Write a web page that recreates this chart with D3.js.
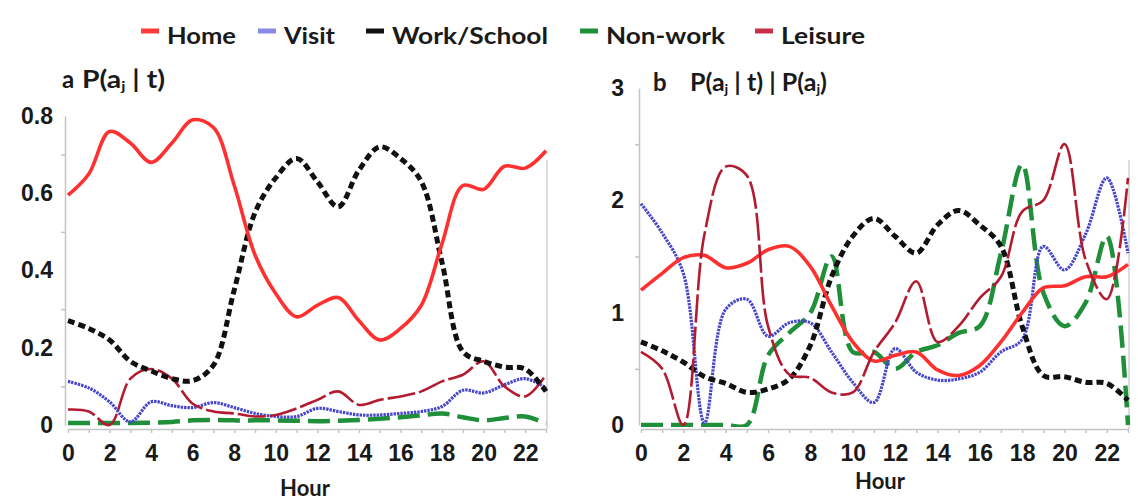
<!DOCTYPE html>
<html>
<head>
<meta charset="utf-8">
<script src="https://cdn.jsdelivr.net/npm/d3@7"></script>
<style>
  body { margin: 0; background: #fff; }
  svg { font-family: Lato, "Open Sans", sans-serif; font-weight: 700; }
</style>
</head>
<body>
<svg id="drawing_region"></svg>
<script>
// hours of the day
const hours = [0,1,2,3,4,5,6,7,8,9,10,11,12,13,14,15,16,17,18,19,20,21,22,23];
const seriesNames = ["Home", "Visit", "Work/School", "Non-work", "Leisure"];

// panel a : P(aj|t)
const homeA    = [0.595,0.65,0.76,0.73,0.68,0.73,0.79,0.77,0.62,0.44,0.34,0.28,0.31,0.33,0.27,0.22,0.25,0.31,0.47,0.62,0.61,0.67,0.665,0.71];
const visitA   = [0.113,0.096,0.06,0.008,0.06,0.05,0.045,0.058,0.045,0.03,0.022,0.022,0.043,0.035,0.026,0.026,0.03,0.035,0.048,0.09,0.083,0.104,0.12,0.096];
const workA    = [0.27,0.25,0.22,0.165,0.14,0.12,0.115,0.155,0.35,0.55,0.64,0.69,0.63,0.565,0.66,0.72,0.69,0.63,0.42,0.19,0.165,0.15,0.145,0.087];
const nonworkA = [0.005,0.005,0.005,0.005,0.006,0.008,0.012,0.013,0.012,0.012,0.012,0.011,0.01,0.011,0.013,0.016,0.02,0.025,0.03,0.02,0.012,0.018,0.022,0.004];
const leisureA = [0.04,0.035,0,0.12,0.145,0.12,0.055,0.035,0.03,0.022,0.026,0.043,0.065,0.087,0.052,0.065,0.074,0.087,0.113,0.13,0.165,0.1,0.074,0.13];

// panel b : P(aj|t) / P(aj)
const homeB    = [1.2,1.35,1.49,1.51,1.4,1.44,1.56,1.59,1.41,1.06,0.74,0.57,0.62,0.65,0.49,0.44,0.53,0.74,1.0,1.22,1.24,1.32,1.32,1.43];
const visitB   = [1.97,1.71,1.35,0.02,1.03,1.12,0.79,0.91,0.91,0.65,0.38,0.2,0.68,0.47,0.4,0.41,0.47,0.65,0.76,1.59,1.38,1.7,2.2,1.53];
const workB    = [0.74,0.66,0.56,0.43,0.37,0.29,0.32,0.41,0.71,1.32,1.68,1.84,1.68,1.53,1.78,1.91,1.78,1.59,0.88,0.44,0.43,0.38,0.37,0.22];
const nonworkB = [0,0,0,0,0,0,0.62,0.82,1.0,1.5,0.65,0.65,0.5,0.65,0.71,0.82,0.88,1.53,2.32,1.18,0.88,1.09,1.68,0];
const leisureB = [0.65,0.5,0,1.7,2.3,2.22,0.88,0.45,0.42,0.29,0.29,0.65,0.91,1.28,0.74,0.88,1.13,1.32,1.9,2.0,2.5,1.47,1.12,2.2];

// tick labels
const xTicks  = [0,2,4,6,8,10,12,14,16,18,20,22];
const yTicksA = [0,0.2,0.4,0.6,0.8];
const yTicksB = [0,1,2,3];

const styles = {
    "Home":        {color: "#ff3030", width: 3.6, dash: null,    legend: "#ff3a3a"},
    "Visit":       {color: "#4646cc", width: 3.2, dash: "2.4,1", legend: "#8a8ae6"},
    "Work/School": {color: "#111111", width: 5,   dash: "7,4",   legend: "#111111"},
    "Non-work":    {color: "#1f8f3a", width: 4.5, dash: "22,8",  legend: "#1f8f3a"},
    "Leisure":     {color: "#b31c30", width: 2.6, dash: "28,4",  legend: "#c8304a"}
};

const svg = d3.select('#drawing_region')
    .attr('width', 1138)
    .attr('height', 501);

class LinePlot {

    constructor( config, series ) {
        this.config = config;
        this.series = series;
        this.init();
    }

    init() {
        let self = this;
        let c = self.config;

        self.chart = svg.append('g');

        self.xscale = d3.scaleLinear()
            .domain([0, 23])
            .range([c.left, c.right]);

        self.yscale = d3.scaleLinear()
            .domain([0, c.ymax])
            .range([c.bottom, c.top]);

        // clip so the smoothed lines do not dip under zero
        self.chart.append('clipPath')
            .attr('id', c.id + '_clip')
            .append('rect')
            .attr('x', c.left - 4)
            .attr('y', c.top - 40)
            .attr('width', c.right - c.left + 8)
            .attr('height', c.bottom - c.top + 42);

        // x axis
        self.xaxis = d3.axisBottom( self.xscale )
            .tickValues(xTicks)
            .tickSize(0)
            .tickPadding(16);
        self.xaxis_group = self.chart.append('g')
            .attr('transform', `translate(0, ${c.bottom + 4})`)
            .call( self.xaxis );

        self.chart.append('g')
            .attr('transform', `translate(0, ${c.bottom + 4})`)
            .call( d3.axisBottom(self.xscale).tickValues(hours).tickSize(4).tickFormat('') )
            .call( g => g.select('.domain').remove() );

        // y axis
        self.yaxis = d3.axisLeft( self.yscale )
            .tickValues(c.yticks)
            .tickSize(0)
            .tickPadding(c.ypad)
            .tickFormat(d => d === 0 ? '0' : c.fmt(d));
        self.yaxis_group = self.chart.append('g')
            .attr('transform', `translate(${c.axisx}, 0)`)
            .call( self.yaxis );

        self.chart.append('g')
            .attr('transform', `translate(${c.axisx}, 0)`)
            .call( d3.axisLeft(self.yscale).tickValues(c.yminor).tickSize(4).tickFormat('') )
            .call( g => g.select('.domain').remove() );

        self.chart.selectAll('.domain, .tick line')
            .attr('stroke', '#c4c4c4')
            .attr('stroke-width', 1.5);
        self.chart.selectAll('.tick text')
            .attr('font-size', '23px')
            .attr('font-weight', 700)
            .attr('fill', '#1a1a1a');

        // right frame line
        self.chart.append('line')
            .attr('x1', c.right + 1).attr('x2', c.right + 1)
            .attr('y1', c.frameTop).attr('y2', c.bottom + 4)
            .attr('stroke', '#d0d0d0')
            .attr('stroke-width', 1.5);

        // axis label
        self.chart.append('text')
            .attr('x', c.hourX)
            .attr('y', c.hourY)
            .attr('text-anchor', 'middle')
            .attr('font-size', '22px')
            .attr('fill', '#1a1a1a')
            .text('Hour');

        self.line = d3.line()
            .x((d, i) => self.xscale(hours[i]))
            .y(d => self.yscale(d))
            .curve(d3.curveCatmullRom.alpha(0.5));
    }

    render() {
        let self = this;

        self.chart.append('g')
            .attr('clip-path', `url(#${self.config.id}_clip)`)
            .selectAll('path')
            .data(self.series)
            .enter()
            .append('path')
            .attr('d', d => self.line(d.values))
            .attr('fill', 'none')
            .attr('stroke', d => styles[d.name].color)
            .attr('stroke-width', d => styles[d.name].width)
            .attr('stroke-dasharray', d => styles[d.name].dash)
            .attr('stroke-linejoin', 'round');
    }
}

const plotA = new LinePlot({
    id: 'pa', left: 68, right: 546, top: 116, bottom: 425, ymax: 0.8,
    axisx: 65, ypad: 12, yticks: yTicksA, yminor: [0.1,0.3,0.5,0.7],
    fmt: d3.format('.1f'), frameTop: 160, hourX: 305, hourY: 496
}, [
    {name: "Non-work", values: nonworkA},
    {name: "Visit", values: visitA},
    {name: "Leisure", values: leisureA},
    {name: "Work/School", values: workA},
    {name: "Home", values: homeA}
]);
plotA.render();

const plotB = new LinePlot({
    id: 'pb', left: 641, right: 1128, top: 88, bottom: 425, ymax: 3,
    axisx: 639, ypad: 15, yticks: yTicksB, yminor: [0.5,1.5,2.5],
    fmt: d3.format('d'), frameTop: 160, hourX: 880, hourY: 489
}, [
    {name: "Non-work", values: nonworkB},
    {name: "Visit", values: visitB},
    {name: "Work/School", values: workB},
    {name: "Home", values: homeB},
    {name: "Leisure", values: leisureB}
]);
plotB.render();

// panel titles
function formula(x, y, width, parts) {
    const t = svg.append('text')
        .attr('x', x).attr('y', y)
        .attr('font-size', '24px')
        .attr('fill', '#1a1a1a')
        .attr('textLength', width)
        .attr('lengthAdjust', 'spacingAndGlyphs');
    parts.forEach(p => {
        if (p.sub) {
            t.append('tspan').attr('font-size', '14px').attr('dy', 3).text(p.text);
        } else {
            t.append('tspan').attr('dy', p.after ? -3 : 0).text(p.text);
        }
    });
}

svg.append('text').attr('x', 62).attr('y', 88).attr('font-size', '24px').attr('fill', '#1a1a1a').text('a');
formula(82, 88, 83, [
    {text: 'P(a'}, {text: 'j', sub: true}, {text: ' | t)', after: true}
]);

svg.append('text').attr('x', 653).attr('y', 91).attr('font-size', '24px').attr('fill', '#1a1a1a').text('b');
formula(690, 91, 137, [
    {text: 'P(a'}, {text: 'j', sub: true}, {text: ' | t) | P(a', after: true},
    {text: 'j', sub: true}, {text: ')', after: true}
]);

// legend
const legendX = [141, 258, 366, 580, 755];
const legendW = [69, 51, 156, 119, 84];
const legend = svg.append('g');
seriesNames.forEach((name, i) => {
    legend.append('line')
        .attr('x1', legendX[i]).attr('x2', legendX[i] + 18)
        .attr('y1', 31).attr('y2', 31)
        .attr('stroke', styles[name].legend)
        .attr('stroke-width', 5);
    legend.append('text')
        .attr('x', legendX[i] + 26)
        .attr('y', 44)
        .attr('font-size', '22px')
        .attr('fill', '#1a1a1a')
        .attr('textLength', legendW[i])
        .attr('lengthAdjust', 'spacingAndGlyphs')
        .text(name);
});
</script>
</body>
</html>
